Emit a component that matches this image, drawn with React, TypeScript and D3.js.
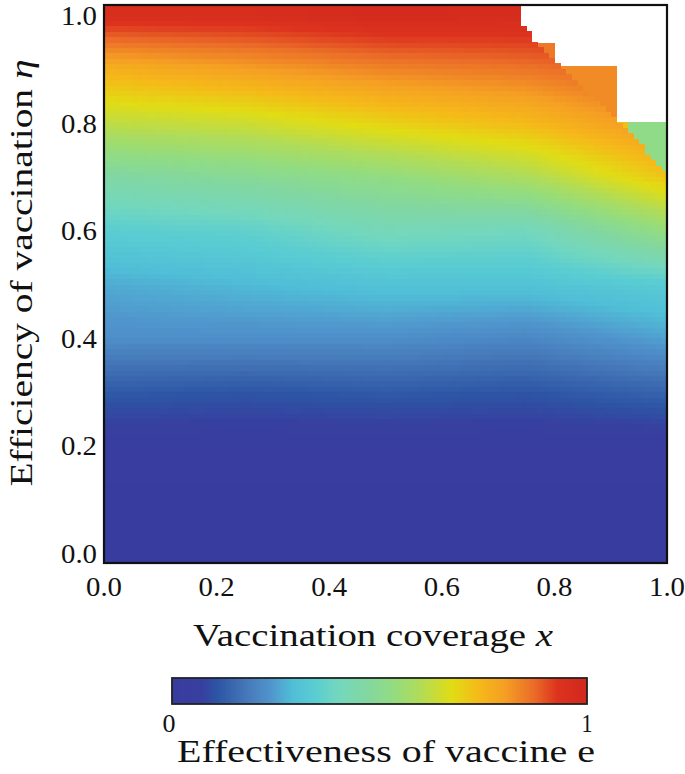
import React from "react";
import * as d3 from "d3";

// Grid of effectiveness e (columns = vaccination coverage x, rows = efficiency η)
const xGrid = [0, 0.25, 0.5, 0.75, 1.0];
const etaGrid = [0, 0.1, 0.2, 0.3, 0.4, 0.5, 0.6, 0.7, 0.8, 0.9, 1.0];
const eAtX000 = [0, 0, 0.04, 0.12, 0.225, 0.265, 0.345, 0.46, 0.62, 0.76, 0.96];
const eAtX025 = [0, 0, 0.04, 0.11, 0.225, 0.285, 0.36, 0.49, 0.64, 0.8, 0.96];
const eAtX050 = [0, 0, 0.04, 0.12, 0.225, 0.305, 0.415, 0.53, 0.695, 0.84, 0.98];
const eAtX075 = [0, 0, 0.04, 0.11, 0.21, 0.305, 0.4, 0.59, 0.74, 0.86, 0.97];
const eAtX100 = [0, 0, 0.04, 0.14, 0.255, 0.338, 0.54, 0.72, 0.83, 0.9, 0.97];
const eColumns = [eAtX000, eAtX025, eAtX050, eAtX075, eAtX100];

// Edge of the computed region (upper right is blank)
const boundaryX = [0.742, 1.0];
const boundaryEta = [0.979, 0.708];

// Constant-colour blocks beyond the edge
const blockX0 = [0.766, 0.801, 0.911, 0.931];
const blockX1 = [0.801, 0.911, 0.931, 1.0];
const blockEta0 = [0.905, 0.801, 0.778, 0.7];
const blockEta1 = [0.948, 0.905, 0.801, 0.801];
const blockE = [0.855, 0.83, 0.73, 0.52];

// Colour bar stops
const stopPos = [0, 0.07, 0.11, 0.18, 0.24, 0.29, 0.345, 0.4, 0.47, 0.53, 0.595, 0.675, 0.74, 0.8, 0.87, 0.93, 1.0];
const stopColor = [
  "#393c9f", "#373f9f", "#2d55a5", "#4678b9", "#5096cd", "#50bed7", "#5acdd2", "#73d7be",
  "#82d7a0", "#91dc82", "#afdc5a", "#e1dc14", "#f5b919", "#f5a023", "#eb6e28", "#dc321e", "#d2281e",
];

const xTicks = [0, 0.2, 0.4, 0.6, 0.8, 1.0];
const yTicks = [0, 0.2, 0.4, 0.6, 0.8, 1.0];

const FONT = "'Liberation Serif', 'Times New Roman', 'DejaVu Serif', serif";

export default function App() {
  const left = 104, right = 667, top = 5, bottom = 563;
  const xScale = d3.scaleLinear().domain([0, 1]).range([left, right]);
  const yScale = d3.scaleLinear().domain([0, 1]).range([553, 15]);
  const color = d3.scaleLinear<string>().domain(stopPos).range(stopColor).interpolate(d3.interpolateRgb).clamp(true);
  const boundary = d3.scaleLinear().domain(boundaryX).range(boundaryEta);

  const eAt = (x: number, eta: number) => {
    const xe = Math.max(0, Math.min(1, x));
    const ee = Math.max(0, Math.min(1, eta));
    let i = Math.min(xGrid.length - 2, Math.max(0, d3.bisectRight(xGrid, xe) - 1));
    let j = Math.min(etaGrid.length - 2, Math.max(0, d3.bisectRight(etaGrid, ee) - 1));
    const tx = (xe - xGrid[i]) / (xGrid[i + 1] - xGrid[i]);
    const ty = (ee - etaGrid[j]) / (etaGrid[j + 1] - etaGrid[j]);
    const a = eColumns[i][j], b = eColumns[i + 1][j], c = eColumns[i][j + 1], d = eColumns[i + 1][j + 1];
    return (a * (1 - tx) + b * tx) * (1 - ty) + (c * (1 - tx) + d * tx) * ty;
  };

  const etaTop = yScale.invert(top);
  const etaBottom = yScale.invert(bottom);
  const nx = 100;
  const step = 0.01;
  const jStart = Math.floor(etaBottom / step);
  const jEnd = Math.ceil(etaTop / step);
  const cells: any[] = [];
  for (let i = 0; i < nx; i++) {
    const x0 = i * step, x1 = (i + 1) * step, xc = (i + 0.5) * step;
    for (let j = jStart; j < jEnd; j++) {
      const e0 = j * step, e1 = (j + 1) * step, ec = (j + 0.5) * step;
      if (xc >= boundaryX[0] && ec > boundary(xc)) continue;
      const px = xScale(x0), pw = xScale(x1) - px;
      const py = yScale(e1), ph = yScale(e0) - py;
      cells.push(
        <rect key={`${i}-${j}`} x={px} y={py} width={pw + 0.6} height={ph + 0.6} fill={color(eAt(xc, ec))} />
      );
    }
  }

  const cbX0 = 172, cbX1 = 587, cbY0 = 678, cbY1 = 704;
  const txt = { fontFamily: FONT, fill: "#111" } as const;

  return (
    <svg width={685} height={774} style={{ position: "absolute", left: 0, top: 0, background: "#fff" }}>
      <defs>
        <clipPath id="plotClip">
          <rect x={left} y={top} width={right - left} height={bottom - top} />
        </clipPath>
        <linearGradient id="cbGrad" x1="0" x2="1" y1="0" y2="0">
          {stopPos.map((p, k) => (
            <stop key={k} offset={`${p * 100}%`} stopColor={stopColor[k]} />
          ))}
        </linearGradient>
      </defs>
      <rect x={0} y={0} width={685} height={774} fill="#fff" />
      <g clipPath="url(#plotClip)" shapeRendering="crispEdges">
        {blockE.map((v, k) => (
          <rect
            key={`b${k}`}
            x={xScale(blockX0[k])}
            y={yScale(blockEta1[k])}
            width={xScale(blockX1[k]) - xScale(blockX0[k])}
            height={yScale(blockEta0[k]) - yScale(blockEta1[k])}
            fill={color(v)}
          />
        ))}
        {cells}
      </g>
      <rect x={left} y={top} width={right - left} height={bottom - top} fill="none" stroke="#111" strokeWidth={2.2} />

      {xTicks.map((t) => (
        <text key={`xt${t}`} x={xScale(t)} y={596} textAnchor="middle" style={{ ...txt, fontSize: 27 }} textLength={36} lengthAdjust="spacingAndGlyphs">
          {t.toFixed(1)}
        </text>
      ))}
      {yTicks.map((t) => (
        <text key={`yt${t}`} x={97} y={yScale(t) + 10} textAnchor="end" style={{ ...txt, fontSize: 27 }} textLength={36} lengthAdjust="spacingAndGlyphs">
          {t.toFixed(1)}
        </text>
      ))}

      <text x={373} y={646} textAnchor="middle" style={{ ...txt, fontSize: 31 }} textLength={360} lengthAdjust="spacingAndGlyphs">
        Vaccination  coverage  <tspan fontStyle="italic">x</tspan>
      </text>
      <text
        transform={`translate(32,273) rotate(-90)`}
        textAnchor="middle"
        style={{ ...txt, fontSize: 31 }}
        textLength={427}
        lengthAdjust="spacingAndGlyphs"
      >
        Efficiency  of  vaccination  <tspan fontStyle="italic">η</tspan>
      </text>

      <rect x={cbX0} y={cbY0} width={cbX1 - cbX0} height={cbY1 - cbY0} fill="url(#cbGrad)" stroke="#222" strokeWidth={1.8} />
      <text x={169} y={732} textAnchor="middle" style={{ ...txt, fontSize: 26 }} textLength={13} lengthAdjust="spacingAndGlyphs">0</text>
      <text x={587} y={732} textAnchor="middle" style={{ ...txt, fontSize: 26 }} textLength={11} lengthAdjust="spacingAndGlyphs">1</text>
      <text x={386} y={762} textAnchor="middle" style={{ ...txt, fontSize: 31 }} textLength={418} lengthAdjust="spacingAndGlyphs">
        Effectiveness  of  vaccine  e
      </text>
    </svg>
  );
}
